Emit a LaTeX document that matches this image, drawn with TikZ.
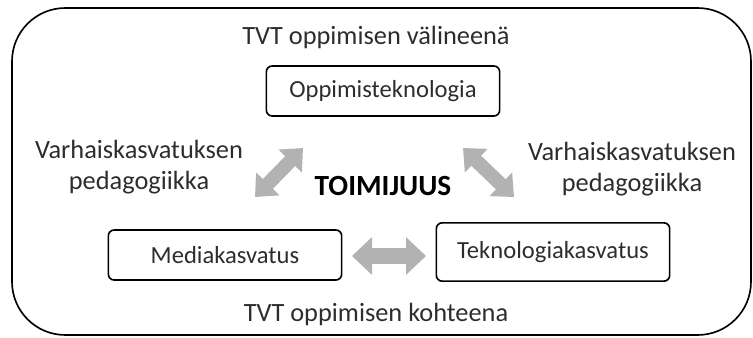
\documentclass[tikz,border=0pt]{standalone}
\usepackage{fontspec}
\setmainfont{Carlito}
\usepackage{tikz}
\usetikzlibrary{arrows.meta, positioning}

\definecolor{inkgray}{RGB}{45,45,45}

\tikzset{
  box/.style={draw, rounded corners=5pt, line width=1.4pt, minimum width=7.0cm,
    minimum height=1.5cm, text=inkgray, font=\fontsize{21}{24}\selectfont},
  label/.style={text=inkgray, font=\fontsize{22.5}{27}\selectfont, align=center},
  fat/.style={draw=black!30, line width=0.42cm,
    {Triangle[width=0.95cm,length=0.55cm]}-{Triangle[width=0.95cm,length=0.55cm]}}
}

\begin{document}
\begin{tikzpicture}[x=0.03cm, y=-0.03cm]
        \useasboundingbox (0,0) rectangle (753,338);

        % frame
        \draw[line width=1.4pt, rounded corners=1.6cm] (12,8) rectangle (751,335);

        % top and bottom texts
        \node[label] (top) at (376,37) {TVT oppimisen välineenä};
        \node[label] (bottom) at (376,314) {TVT oppimisen kohteena};

        % boxes
        \node[box] (tech) at (383,91) {Oppimisteknologia};
        \node[box] (media) at (225,255) {Mediakasvatus};
        \node[box, minimum height=1.75cm] (tekn) at (553,252) {Teknologiakasvatus};

        % pedagogy
        \node[label] (pedl) at (139,167) {Varhaiskasvatuksen\\pedagogiikka};
        \node[label] (pedr) at (632,169) {Varhaiskasvatuksen\\pedagogiikka};
        \node[font=\fontsize{25}{30}\selectfont\bfseries] (agency) at (383,186) {TOIMIJUUS};

        % arrows
        \coordinate (l1) at (255,197);
        \coordinate (l2) at (303,148);
        \coordinate (r1) at (463,148);
        \coordinate (r2) at (514,197);
        \coordinate (m1) at (352,256);
        \coordinate (m2) at (426,256);
        \draw[fat] (l1) -- (l2);
        \draw[fat] (r1) -- (r2);
        \draw[fat, line width=0.5cm,
          {Triangle[width=1.1cm,length=0.6cm]}-{Triangle[width=1.1cm,length=0.6cm]}] (m1) -- (m2);
      \end{tikzpicture}
\end{document}
